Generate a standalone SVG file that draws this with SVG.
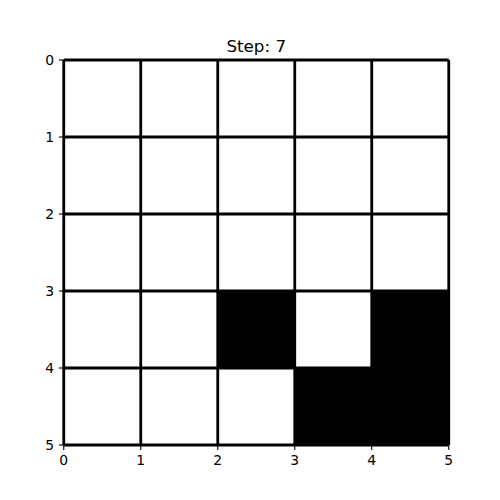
<svg xmlns="http://www.w3.org/2000/svg" width="500" height="500" viewBox="0 0 500 500">
<style>
.t{font-family:"DejaVu Sans",sans-serif;font-size:13.9px;fill:#000}
.tk{stroke:#000;stroke-width:1.1}
.g{stroke:#000;stroke-width:2.8;fill:none}
</style>
<rect width="500" height="500" fill="#fff"/>
<g id="cells" fill="#000">
<rect x="217.75" y="291" width="77" height="77"/>
<rect x="371.75" y="291" width="77" height="77"/>
<rect x="294.75" y="368" width="77" height="77"/>
<rect x="371.75" y="368" width="77" height="77"/>
</g>
<g id="grid" class="g">
<line x1="63.75" y1="60" x2="63.75" y2="445"/>
<line x1="140.75" y1="60" x2="140.75" y2="445"/>
<line x1="217.75" y1="60" x2="217.75" y2="445"/>
<line x1="294.75" y1="60" x2="294.75" y2="445"/>
<line x1="371.75" y1="60" x2="371.75" y2="445"/>
<line x1="448.75" y1="60" x2="448.75" y2="445"/>
<line x1="63.75" y1="60" x2="448.75" y2="60"/>
<line x1="63.75" y1="137" x2="448.75" y2="137"/>
<line x1="63.75" y1="214" x2="448.75" y2="214"/>
<line x1="63.75" y1="291" x2="448.75" y2="291"/>
<line x1="63.75" y1="368" x2="448.75" y2="368"/>
<line x1="63.75" y1="445" x2="448.75" y2="445"/>
</g>
<g id="ticks" class="tk">
<line x1="58.9" y1="60" x2="63.75" y2="60"/>
<line x1="58.9" y1="137" x2="63.75" y2="137"/>
<line x1="58.9" y1="214" x2="63.75" y2="214"/>
<line x1="58.9" y1="291" x2="63.75" y2="291"/>
<line x1="58.9" y1="368" x2="63.75" y2="368"/>
<line x1="58.9" y1="445" x2="63.75" y2="445"/>
<line x1="63.75" y1="445" x2="63.75" y2="449.9"/>
<line x1="140.75" y1="445" x2="140.75" y2="449.9"/>
<line x1="217.75" y1="445" x2="217.75" y2="449.9"/>
<line x1="294.75" y1="445" x2="294.75" y2="449.9"/>
<line x1="371.75" y1="445" x2="371.75" y2="449.9"/>
<line x1="448.75" y1="445" x2="448.75" y2="449.9"/>
</g>
<g id="ylabels" class="t" text-anchor="end">
<text x="54" y="65">0</text>
<text x="54" y="142">1</text>
<text x="54" y="219">2</text>
<text x="54" y="296">3</text>
<text x="54" y="373">4</text>
<text x="54" y="450">5</text>
</g>
<g id="xlabels" class="t" text-anchor="middle">
<text x="63.75" y="465">0</text>
<text x="140.75" y="465">1</text>
<text x="217.75" y="465">2</text>
<text x="294.75" y="465">3</text>
<text x="371.75" y="465">4</text>
<text x="448.75" y="465">5</text>
</g>
<text id="title" x="256.25" y="52" text-anchor="middle" font-family="DejaVu Sans, sans-serif" font-size="16.7px">Step: 7</text>
</svg>
